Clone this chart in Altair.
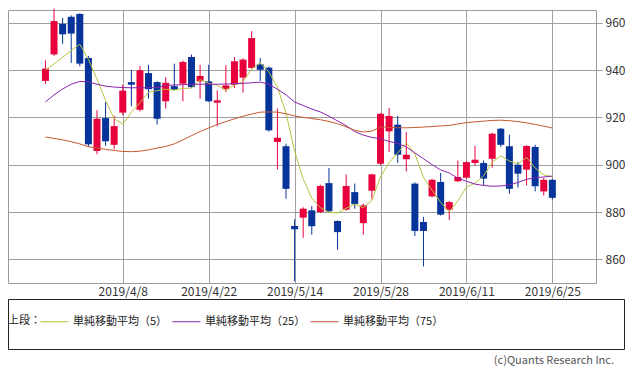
import json
import altair as alt
import pandas as pd

dates = ["2019/3/26", "2019/3/27", "2019/3/28", "2019/3/29",
         "2019/4/1", "2019/4/2", "2019/4/3", "2019/4/4", "2019/4/5",
         "2019/4/8", "2019/4/9", "2019/4/10", "2019/4/11", "2019/4/12",
         "2019/4/15", "2019/4/16", "2019/4/17", "2019/4/18", "2019/4/19",
         "2019/4/22", "2019/4/23", "2019/4/24", "2019/4/25", "2019/4/26",
         "2019/5/7", "2019/5/8", "2019/5/9", "2019/5/10",
         "2019/5/13", "2019/5/14", "2019/5/15", "2019/5/16", "2019/5/17",
         "2019/5/20", "2019/5/21", "2019/5/22", "2019/5/23", "2019/5/24",
         "2019/5/27", "2019/5/28", "2019/5/29", "2019/5/30", "2019/5/31",
         "2019/6/3", "2019/6/4", "2019/6/5", "2019/6/6", "2019/6/7",
         "2019/6/10", "2019/6/11", "2019/6/12", "2019/6/13", "2019/6/14",
         "2019/6/17", "2019/6/18", "2019/6/19", "2019/6/20", "2019/6/21",
         "2019/6/24", "2019/6/25"]

opens = [935.4, 946.6, 959.5, 962.5, 963.7, 945.1, 905.8, 919.7, 908.4, 922.0,
         934.9, 923.2, 938.7, 934.9, 926.8, 933.2, 934.2, 945.5, 935.2, 935.2,
         926.2, 931.9, 933.8, 936.8, 940.9, 942.4, 941.0, 909.6, 907.8, 874.1,
         877.6, 880.7, 880.0, 892.2, 876.2, 881.0, 888.4, 875.3, 889.0, 900.4,
         914.1, 916.9, 902.3, 892.0, 875.8, 886.6, 892.7, 881.0, 893.0, 894.5,
         900.7, 900.7, 902.5, 915.2, 907.8, 900.0, 897.9, 907.5, 888.7, 893.6]
highs = [944.1, 965.9, 962.0, 963.1, 964.0, 946.0, 923.0, 926.5, 920.6, 933.8,
         940.1, 941.7, 942.2, 935.3, 937.0, 942.7, 944.0, 946.5, 942.2, 942.2,
         931.4, 942.0, 945.5, 944.9, 956.4, 945.1, 941.5, 923.7, 908.9, 876.9,
         882.0, 882.5, 891.5, 898.6, 876.5, 895.9, 892.0, 883.5, 896.2, 921.8,
         924.0, 920.6, 913.8, 892.5, 877.9, 894.0, 896.5, 884.6, 901.8, 901.5,
         908.0, 901.8, 913.5, 915.5, 912.7, 901.1, 908.2, 908.4, 894.4, 894.0]
lows = [934.2, 946.0, 951.1, 943.0, 941.6, 907.5, 904.4, 908.0, 906.5, 921.0,
        924.7, 922.5, 927.9, 917.0, 923.7, 931.5, 926.8, 932.5, 927.9, 926.5,
        916.3, 930.7, 932.4, 930.4, 940.5, 935.4, 914.0, 898.0, 885.6, 850.7,
        869.1, 870.4, 879.5, 879.8, 864.0, 880.5, 881.4, 870.4, 885.3, 899.8,
        905.4, 900.8, 897.2, 869.8, 857.0, 886.2, 878.5, 876.7, 892.7, 894.0,
        899.7, 891.3, 898.7, 907.5, 887.7, 890.3, 891.3, 888.7, 887.0, 885.3]
closes = [940.6, 960.7, 955.1, 955.4, 942.7, 908.6, 919.4, 909.9, 916.3, 931.3,
          933.8, 939.9, 931.9, 919.4, 934.6, 931.7, 943.4, 932.8, 937.5, 926.8,
          927.2, 933.5, 943.7, 944.4, 953.5, 940.1, 914.5, 911.4, 889.8, 872.7,
          881.4, 874.0, 891.0, 880.3, 871.5, 891.0, 883.4, 882.8, 895.9, 921.5,
          920.6, 904.2, 904.2, 872.0, 872.0, 893.6, 878.9, 884.2, 894.8, 901.1,
          902.1, 894.1, 913.1, 908.4, 889.8, 896.2, 907.9, 890.9, 893.6, 886.0]

ma5 = [939.9, 942.6, 945.4, 948.2, 950.9, 944.5, 936.2, 927.2, 919.4, 917.1,
       922.1, 926.2, 930.6, 931.3, 931.9, 931.5, 932.2, 932.4, 936.0, 934.4,
       933.5, 931.6, 933.7, 935.1, 940.5, 943.0, 939.2, 932.8, 921.9, 905.7,
       894.0, 885.9, 881.8, 879.9, 879.6, 881.6, 883.4, 881.8, 884.9, 894.9,
       900.8, 905.0, 909.3, 904.5, 894.6, 889.2, 884.1, 880.1, 884.7, 890.5,
       892.2, 895.3, 901.0, 903.8, 901.5, 900.3, 903.1, 898.6, 895.7, 894.9]
ma25 = [926.5, 929.5, 932.0, 934.0, 935.2, 935.0, 934.0, 933.2, 932.8, 932.6,
        932.5, 932.5, 932.5, 932.6, 933.5, 933.7, 933.8, 933.9, 934.0, 934.0,
        934.0, 934.1, 934.2, 934.4, 934.6, 934.9, 934.0, 931.9, 929.5, 926.5,
        925.0, 923.5, 922.3, 920.5, 918.5, 916.5, 914.0, 912.5, 911.5, 911.0,
        909.8, 909.0, 907.5, 905.0, 902.5, 900.0, 897.8, 896.5, 894.3, 893.0,
        891.8, 891.2, 890.9, 891.0, 891.5, 892.5, 893.8, 894.5, 894.8, 895.2]
ma75 = [911.7, 911.1, 910.5, 909.7, 908.8, 907.6, 907.0, 906.5, 906.0, 905.6,
        905.5, 905.7, 906.3, 907.0, 907.7, 908.8, 910.5, 912.3, 914.0, 915.5,
        917.0, 918.2, 919.4, 920.5, 921.4, 922.2, 922.3, 922.2, 921.5, 920.6,
        920.0, 919.5, 919.0, 918.3, 917.3, 916.0, 914.5, 913.8, 914.2, 916.0,
        915.8, 915.6, 915.6, 915.7, 915.9, 916.1, 916.4, 916.6, 917.2, 917.8,
        918.1, 918.4, 918.7, 918.8, 918.6, 918.2, 917.7, 917.0, 916.3, 915.5]

ma_names = ["単純移動平均（5）", "単純移動平均（25）", "単純移動平均（75）"]
ma_colors = ["#b9c43c", "#8a22ad", "#c45a30"]
tick_idx = [9, 19, 29, 39, 49, 59]
tick_labels = ["2019/4/8", "2019/4/22", "2019/5/14", "2019/5/28", "2019/6/11", "2019/6/25"]
y_ticks = [860, 880, 900, 920, 940, 960]
legend_head = "上段："
copyright_text = "(c)Quants Research Inc."

UP = "#e8003d"
DOWN = "#06349a"
FONT = "Noto Sans CJK JP"

idx = list(range(len(dates)))
candles = pd.DataFrame({"i": idx, "date": dates, "open": opens, "high": highs,
                        "low": lows, "close": closes})
ma_df = pd.concat([
    pd.DataFrame({"i": idx, "series": name, "value": vals})
    for name, vals in zip(ma_names, [ma5, ma25, ma75])
])

label_map = json.dumps({str(k): v for k, v in zip(tick_idx, tick_labels)}, ensure_ascii=False)

x_scale = alt.Scale(domain=[-3.776, 63.5], nice=False, zero=False)
y_scale = alt.Scale(domain=[850.0, 965.37], nice=False, zero=False)

x_axis = alt.Axis(values=tick_idx, labelExpr=f"{label_map}[''+datum.value]",
                  grid=True, ticks=False, domain=False, labelPadding=3,
                  labelFlush=False, labelOverlap=False, title=None,
                  labelFontSize=12, labelFont=FONT, labelColor="#333333")
y_axis = alt.Axis(orient="right", values=y_ticks, grid=True, ticks=True, tickSize=6,
                  tickColor="#999999", domain=False, labelPadding=3, title=None,
                  labelFontSize=12, labelFont=FONT, labelColor="#333333")

X = alt.X("i:Q", scale=x_scale, axis=x_axis)
candle_color = alt.condition("datum.close > datum.open", alt.value(UP), alt.value(DOWN))

base = alt.Chart(candles)
wicks = base.mark_rule(strokeWidth=1).encode(
    x=X,
    y=alt.Y("low:Q", scale=y_scale, axis=y_axis),
    y2="high:Q",
    color=candle_color,
)
bodies = base.mark_bar(size=7).encode(
    x=X,
    y=alt.Y("open:Q", scale=y_scale),
    y2="close:Q",
    color=candle_color,
)
lines = alt.Chart(ma_df).mark_line(strokeWidth=1).encode(
    x=X,
    y=alt.Y("value:Q", scale=y_scale),
    color=alt.Color("series:N", sort=ma_names,
                    scale=alt.Scale(domain=ma_names, range=ma_colors),
                    legend=alt.Legend(orient="none", legendX=32, legendY=297,
                                      direction="horizontal", title=None,
                                      symbolType="stroke", symbolSize=784,
                                      symbolStrokeWidth=1, labelFontSize=11,
                                      labelFont=FONT, labelColor="#222222",
                                      labelOffset=4, columnPadding=2,
                                      padding=0, labelLimit=0)),
)

box = alt.Chart(pd.DataFrame({"k": [0]})).mark_rect(
    fill=None, stroke="#222222", strokeWidth=1
).encode(x=alt.value(0.5), x2=alt.value(616.5), y=alt.value(289.5), y2=alt.value(339.5))

head = alt.Chart(pd.DataFrame({"t": [legend_head]})).mark_text(
    align="left", baseline="middle", fontSize=11, font=FONT, color="#222222"
).encode(text="t:N", x=alt.value(0), y=alt.value(311))

credit = alt.Chart(pd.DataFrame({"t": [copyright_text]})).mark_text(
    align="right", baseline="middle", fontSize=11, font=FONT, color="#555555"
).encode(text="t:N", x=alt.value(606), y=alt.value(351))

chart = alt.layer(wicks, bodies, lines, box, head, credit).properties(
    width=588, height=273, padding=0
).configure_view(
    stroke="#999999", strokeWidth=1
).configure_axis(
    gridColor="#a0a0a0", gridWidth=1
)

chart.save("out.html", embed_options={"renderer": "svg", "actions": False})
